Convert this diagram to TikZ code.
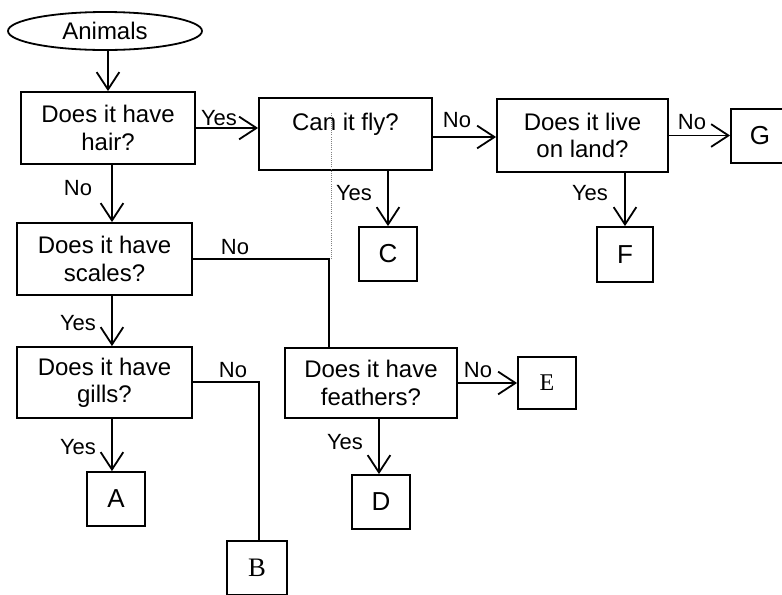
\documentclass[tikz,border=0pt]{standalone}
\usepackage{fontspec}
\setmainfont{Liberation Sans}
\newfontfamily\letterserif{Liberation Serif}
\usetikzlibrary{shapes.geometric,arrows.meta}

\tikzset{every picture/.style={line width=1.35pt}}
\tikzset{
  question/.style={draw, rectangle, inner sep=0pt, align=center, minimum width=130.5pt, minimum height=54pt, font=\fontsize{18}{20.5}\selectfont},
  leaf/.style={draw, rectangle, inner sep=0pt, minimum width=43.5pt, minimum height=40.5pt, font=\fontsize{19.5}{21}\selectfont},
  answer/.style={inner sep=0pt, font=\fontsize{16.5}{18}\selectfont},
  arr/.style={-{Straight Barb[length=13pt,width=17pt,line width=1.35pt]}}
}

\begin{document}
\begin{tikzpicture}[x=0.75pt,y=0.75pt,yscale=-1,xscale=1]
  \useasboundingbox (0,0) rectangle (782,594);

  %Shape: Ellipse
  \node [draw, ellipse, inner sep=0pt, minimum width=145.5pt, minimum height=28.5pt, font=\fontsize{18}{20}\selectfont] (animals) at (105,31) {Animals};
  %Shape: Rectangle
  \node [question] (hair) at (108,128) {Does it have\\hair?};
  %Shape: Rectangle
  \node [question, minimum width=129.75pt] (fly) at (345.5,134) {Can it fly?\\[-0.8ex]\strut};
  %Shape: Rectangle
  \node [question, minimum width=128.25pt, minimum height=54.75pt] (land) at (582.5,135.5) {Does it live\\on land?};
  %Shape: Rectangle
  \node [leaf] (G) at (760,136) {G};
  %Shape: Rectangle
  \node [leaf] (C) at (388,254) {C};
  %Shape: Rectangle
  \node [leaf, minimum width=42pt, minimum height=41.25pt] (F) at (625,254.5) {F};
  %Shape: Rectangle
  \node [question, minimum width=131.25pt] (scales) at (104.5,259) {Does it have\\scales?};
  %Shape: Rectangle
  \node [question, minimum width=131.25pt, minimum height=53.25pt] (gills) at (104.5,382.5) {Does it have\\gills?};
  %Shape: Rectangle
  \node [question, minimum width=129pt, minimum height=52.5pt] (feathers) at (371,383) {Does it have\\feathers?};
  %Shape: Rectangle
  \node [leaf, minimum height=39pt, font=\letterserif\fontsize{18}{20}\selectfont] (E) at (547,383) {E};
  %Shape: Rectangle
  \node [leaf] (A) at (116,499) {A};
  %Shape: Rectangle
  \node [leaf] (D) at (381,502) {D};
  %Shape: Rectangle
  \node [leaf, minimum width=45pt, font=\letterserif\fontsize{20}{22}\selectfont] (B) at (257,568) {B};

  \coordinate (jn) at (329,259);

  %Straight Lines
  \draw [arr] (animals.south -| hair.north) -- (hair.north);
  %Straight Lines
  \draw [arr] (hair.east) -- (hair.east -| fly.west);
  %Straight Lines
  \draw [arr] ([yshift=2.25pt]fly.east) -- ([yshift=2.25pt]fly.east -| land.west);
  %Straight Lines
  \draw [arr] (land.east) -- (land.east -| G.west);
  %Straight Lines
  \draw [arr] (C.north |- fly.south) -- (C.north);
  %Straight Lines
  \draw [arr] (F.north |- land.south) -- (F.north);
  %Straight Lines
  \draw [arr] ([xshift=3pt]hair.south) -- ([xshift=3pt]hair.south |- scales.north);
  %Straight Lines
  \draw [arr] ([xshift=5.6pt]scales.south) -- ([xshift=5.6pt]scales.south |- gills.north);
  %Straight Lines
  \draw [arr] ([xshift=5.6pt]gills.south) -- ([xshift=5.6pt]gills.south |- A.north);
  %Straight Lines
  \draw [arr] ([xshift=-1.5pt]D.north |- feathers.south) -- ([xshift=-1.5pt]D.north);
  %Straight Lines
  \draw [arr] (feathers.east) -- (feathers.east -| E.west);
  %Straight Lines
  \draw (scales.east) -- (jn) -- (jn |- feathers.north);
  %Straight Lines
  \draw [line width=0.6pt, densely dotted, gray] ([xshift=2pt]jn) -- ++(0,-146);
  %Straight Lines
  \draw ([yshift=-0.4pt]gills.east) -| ([xshift=1.5pt]B.north);

  % Text Node
  \node [answer] (yes1) at (219,118) {Yes};
  % Text Node
  \node [answer] (no1) at (78,188) {No};
  % Text Node
  \node [answer] (no2) at (457,120) {No};
  % Text Node
  \node [answer] (no3) at (692,122) {No};
  % Text Node
  \node [answer] (yes2) at (354,193) {Yes};
  % Text Node
  \node [answer] (yes3) at (590,193) {Yes};
  % Text Node
  \node [answer] (no4) at (235,247) {No};
  % Text Node
  \node [answer] (yes4) at (78,323) {Yes};
  % Text Node
  \node [answer] (no5) at (233,370) {No};
  % Text Node
  \node [answer] (no6) at (478,370) {No};
  % Text Node
  \node [answer] (yes5) at (78,447) {Yes};
  % Text Node
  \node [answer] (yes6) at (345,442) {Yes};

\end{tikzpicture}
\end{document}
